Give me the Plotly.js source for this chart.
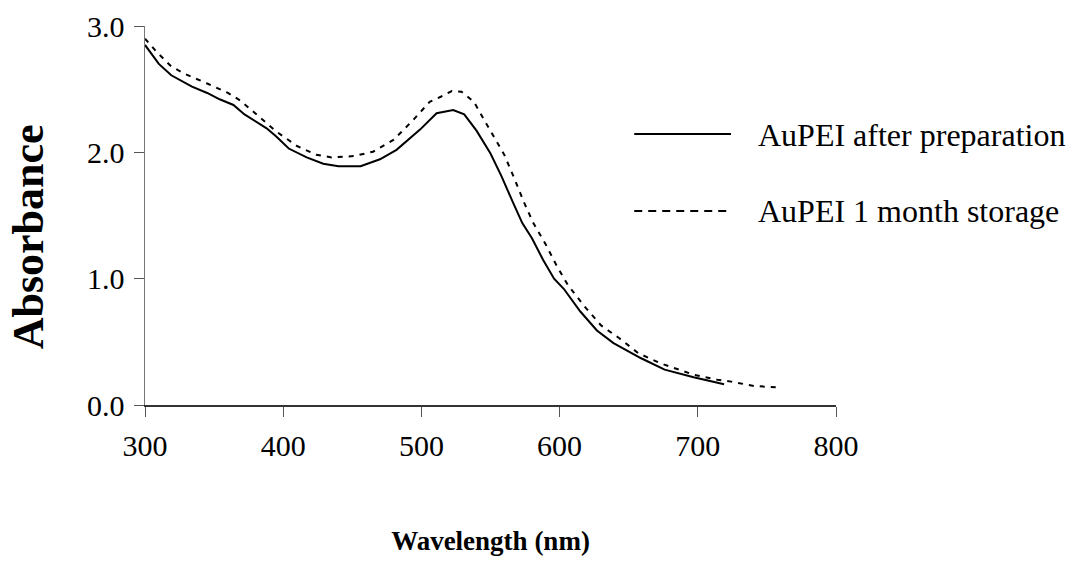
<!DOCTYPE html>
<html>
<head>
<meta charset="utf-8">
<script src="https://cdn.plot.ly/plotly-3.0.1.min.js"></script>
<style>html,body{margin:0;padding:0;background:#fff;}#chart{width:1070px;height:587px;}</style>
</head>
<body>
<div id="chart"></div>
<script>
// Series: AuPEI after preparation (solid)
const afterWavelength = [300, 310, 319, 334, 345, 354, 364, 372, 388, 395, 404, 417, 429, 440, 456, 470, 482, 499, 511, 523, 531, 540, 550, 558, 566, 573, 580, 588, 596, 603, 615, 627, 639, 659, 676, 697, 719];
const afterAbsorbance = [2.85, 2.70, 2.61, 2.52, 2.47, 2.42, 2.375, 2.30, 2.19, 2.125, 2.03, 1.96, 1.91, 1.89, 1.89, 1.945, 2.02, 2.18, 2.31, 2.335, 2.30, 2.17, 1.99, 1.81, 1.61, 1.44, 1.32, 1.15, 1.00, 0.92, 0.74, 0.59, 0.49, 0.37, 0.28, 0.22, 0.165];

// Series: AuPEI 1 month storage (dashed)
const storageWavelength = [300, 308, 319, 328, 345, 360, 369, 381, 395, 410, 424, 435, 451, 465, 480, 494, 506, 514, 522, 529, 538, 546, 551, 560, 567, 574, 581, 590, 598, 606, 618, 630, 643, 657, 673, 697, 714, 724, 741, 757];
const storageAbsorbance = [2.90, 2.80, 2.68, 2.625, 2.545, 2.47, 2.41, 2.30, 2.165, 2.05, 1.98, 1.96, 1.97, 2.005, 2.10, 2.255, 2.40, 2.44, 2.485, 2.48, 2.40, 2.245, 2.15, 1.98, 1.80, 1.61, 1.44, 1.27, 1.10, 0.95, 0.78, 0.63, 0.53, 0.41, 0.33, 0.24, 0.20, 0.185, 0.15, 0.14];

const seriesNames = ["AuPEI after preparation", "AuPEI 1 month storage"];
const xTickValues = [300, 400, 500, 600, 700, 800];
const yTickValues = [0, 1, 2, 3];
const xTitle = "Wavelength (nm)";
const yTitle = "Absorbance";

const FONT = "Liberation Serif, Times New Roman, serif";

const traces = [
  {x: afterWavelength, y: afterAbsorbance, type: "scatter", mode: "lines", name: seriesNames[0],
   line: {color: "#000", width: 2}, showlegend: false},
  {x: storageWavelength, y: storageAbsorbance, type: "scatter", mode: "lines", name: seriesNames[1],
   line: {color: "#000", width: 2, dash: "5px,6px"}, showlegend: false}
];

const layout = {
  width: 1070, height: 587,
  margin: {l: 145, r: 234, t: 26, b: 182},
  paper_bgcolor: "#fff", plot_bgcolor: "#fff",
  font: {family: FONT, size: 30, color: "#000"},
  xaxis: {
    range: [300, 800], tickvals: xTickValues, ticks: "outside", ticklen: 10, tickcolor: "#555",
    showline: true, linecolor: "#333", linewidth: 1.5, showgrid: false, zeroline: false,
    tickfont: {family: FONT, size: 30}, ticklabelstandoff: 3,
    title: {text: "<b>" + xTitle + "</b>", font: {family: FONT, size: 27}, standoff: 70}
  },
  yaxis: {
    range: [0, 3], tickvals: yTickValues, tickformat: ".1f", ticks: "outside", ticklen: 10, tickcolor: "#555",
    showline: true, linecolor: "#777", linewidth: 1.5, showgrid: false, zeroline: false,
    tickfont: {family: FONT, size: 30}, ticklabelstandoff: 3
  },
  shapes: [
    {type: "line", xref: "paper", yref: "paper", x0: 0.708, x1: 0.848, y0: 0.715, y1: 0.715, line: {color: "#000", width: 2}},
    {type: "line", xref: "paper", yref: "paper", x0: 0.708, x1: 0.848, y0: 0.512, y1: 0.512, line: {color: "#000", width: 2, dash: "8px,6px"}}
  ],
  annotations: [
    {xref: "paper", yref: "paper", x: -0.169, y: 0.443, xanchor: "center", yanchor: "middle", showarrow: false,
     textangle: -90, text: "<b>" + yTitle + "</b>", font: {family: FONT, size: 44, color: "#000"}},
    {xref: "paper", yref: "paper", x: 0.884, y: 0.712, xanchor: "left", yanchor: "middle", showarrow: false,
     text: seriesNames[0], font: {family: FONT, size: 32, color: "#000"}},
    {xref: "paper", yref: "paper", x: 0.884, y: 0.512, xanchor: "left", yanchor: "middle", showarrow: false,
     text: seriesNames[1], font: {family: FONT, size: 32, color: "#000"}}
  ]
};

Plotly.newPlot("chart", traces, layout, {staticPlot: true, displayModeBar: false});
</script>
</body>
</html>
